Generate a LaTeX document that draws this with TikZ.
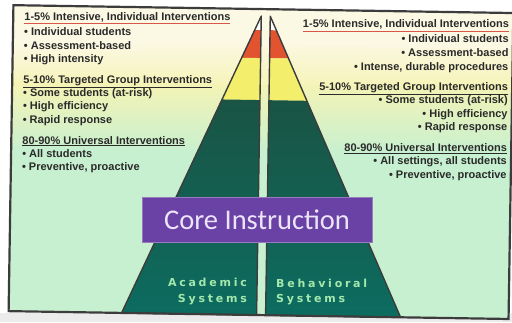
\documentclass[tikz,border=0pt]{standalone}
\usepackage{fontspec}
\setmainfont{Liberation Sans}
\newfontfamily\corefont{Carlito}
\newfontfamily\sysfont[LetterSpace=25]{DejaVu Sans Bold}
\usetikzlibrary{positioning}

\definecolor{txt}{HTML}{2A2A2A}
\definecolor{ulred}{HTML}{D8574A}
\definecolor{cream}{HTML}{FBF8E4}
\definecolor{paleyel}{HTML}{F6F3B4}
\definecolor{mint}{HTML}{C6F0D0}
\definecolor{tipred}{HTML}{E2532F}
\definecolor{tipyel}{HTML}{F3EE6C}
\definecolor{pyrtop}{HTML}{1A5444}
\definecolor{pyrbot}{HTML}{0C6C60}
\definecolor{corepurple}{HTML}{6A42A6}
\definecolor{coretext}{HTML}{ECE4F8}
\definecolor{systext}{HTML}{A4E8AC}
\definecolor{frameline}{HTML}{3C3C3C}

\newcommand{\headA}[1]{\textcolor{ulred}{\underline{\textcolor{txt}{#1}}}}
\newcommand{\headB}[1]{\underline{#1}}

\begin{document}
\begin{tikzpicture}[x=1pt, y=-1pt,
  lefttext/.style={anchor=west, inner sep=0pt, text=txt, text height=7.5pt, text depth=2pt, font=\fontsize{11}{12}\selectfont\bfseries},
  righttext/.style={lefttext, anchor=east},
  pyrline/.style={draw=frameline, line width=1.4pt, line join=round},
  corebar/.style={fill=corepurple, draw=corepurple!70!white, line width=1pt, minimum width=230pt, minimum height=45pt, inner sep=0pt, text=coretext, font=\corefont\fontsize{28.5}{28}\selectfont},
  syslabel/.style={inner sep=0pt, text=systext, text height=8pt, text depth=0pt, font=\sysfont\fontsize{11}{12}\selectfont}]
  \path[use as bounding box, fill=white] (0,0) rectangle (512,322);
  \fill[black!8] (0,313) rectangle (512,322);

  \begin{scope}[rotate around={-0.9:(256,161)}]
  % background of the slide
  \fill[cream] (11,9) rectangle (511,46);
  \shade[top color=cream, bottom color=paleyel] (11,45) rectangle (511,86);
  \shade[top color=paleyel, bottom color=mint] (11,85) rectangle (511,151);
  \fill[mint] (11,150) rectangle (511,315);

  % two halves of the pyramid
  \foreach \tip/\base in {259/124, 268/403} {
    \begin{scope}
      \clip (\tip,16) -- (\base,315) -- (\tip,315) -- cycle;
      \fill[white] (100,10) rectangle (420,30);
      \fill[tipred] (100,30) rectangle (420,58);
      \fill[tipyel] (100,58) rectangle (420,100);
      \shade[top color=pyrtop, bottom color=pyrbot] (100,100) rectangle (420,315);
    \end{scope}
    \draw[pyrline] (\tip,16) -- (\base,315) -- (\tip,315) -- cycle;
  }
  \draw[frameline, line width=2.2pt] (11,9) rectangle (511,315);

  \node[corebar] (core) at (258,219.5) {Core Instruction};
  \node[syslabel, anchor=base east] (acad) at (249,287) {Academic};
  \node[syslabel, below=7pt of acad.south east, anchor=north east] (acadsys) {Systems};
  \node[syslabel, anchor=base west] (behav) at (278,287) {Behavioral};
  \node[syslabel, below=7pt of behav.south west, anchor=north west] (behavsys) {Systems};

  \foreach \txt/\y [count=\i] in {{\headA{1-5\% Intensive, Individual Interventions}}/21,
      {• Individual students}/36, {• Assessment-based}/50, {• High intensity}/63.5,
      {\headB{5-10\% Targeted Group Interventions}}/84,
      {• Some students (at-risk)}/97, {• High efficiency}/110.5, {• Rapid response}/124,
      {\headB{80-90\% Universal Interventions}}/145,
      {• All students}/158, {• Preventive, proactive}/171.5}
    \node[lefttext] (l\i) at (22,\y) {\txt};

  \foreach \txt/\y [count=\i] in {{\headA{1-5\% Intensive, Individual Interventions}}/21,
      {• Individual students}/36, {• Assessment-based}/50, {• Intense, durable procedures}/63.5,
      {\headB{5-10\% Targeted Group Interventions}}/84,
      {• Some students (at-risk)}/97, {• High efficiency}/110.5, {• Rapid response}/124,
      {\headB{80-90\% Universal Interventions}}/145,
      {• All settings, all students}/158, {• Preventive, proactive}/171.5}
    \node[righttext] (r\i) at (507,\y) {\txt};
  \end{scope}
\end{tikzpicture}
\end{document}
